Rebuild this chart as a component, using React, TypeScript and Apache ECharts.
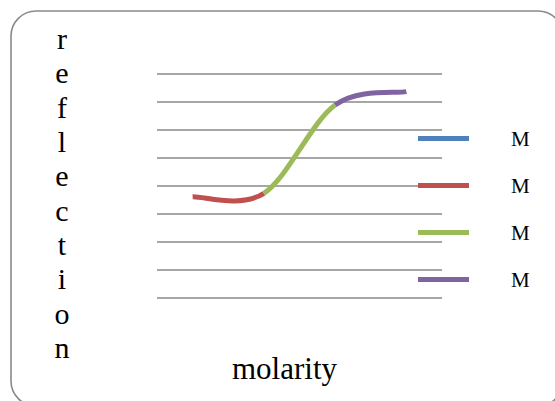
import React, { useEffect, useRef } from "react";
import * as echarts from "echarts";

// Data
const molarity = [1, 2, 3, 4];
const reflection = [0.362, 0.374, 0.689, 0.737];
const legendNames = ["M1", "M2", "M3", "M4"];
const legendLabel = "M";
const seriesColors = ["#4F81BD", "#C0504D", "#9BBB59", "#8064A2"];
// colour of the curve between consecutive molarity points
const segmentColors = ["#C0504D", "#9BBB59", "#8064A2"];
const yTitle = "reflection";
const xTitle = "molarity";

const serif = "'Liberation Serif', 'DejaVu Serif', serif";

export default function App() {
  const ref = useRef<HTMLDivElement>(null);

  useEffect(() => {
    if (!ref.current) return;
    const chart = echarts.init(ref.current, undefined, { renderer: "svg" });

    const curveData = molarity.map((x, i) => [x, reflection[i]]);
    const n = molarity.length;

    const legendSeries = legendNames.map((name, i) => ({
      name,
      type: "line",
      data: [],
      itemStyle: { color: seriesColors[i] },
      lineStyle: { color: seriesColors[i] },
    }));

    // Catmull-Rom style smoothing (as in spreadsheet "smoothed line"),
    // each segment computed through the axis scales with api.coord.
    const renderItem = (params: any, api: any) => {
      const i = params.dataIndex;
      if (i >= n - 1) return null;
      const pt = (k: number) => {
        const kk = Math.max(0, Math.min(n - 1, k));
        return api.coord([molarity[kk], reflection[kk]]);
      };
      const p0 = pt(i - 1);
      const p1 = pt(i);
      const p2 = pt(i + 1);
      const p3 = pt(i + 2);
      return {
        type: "bezierCurve",
        shape: {
          x1: p1[0],
          y1: p1[1],
          cpx1: p1[0] + (p2[0] - p0[0]) / 6,
          cpy1: p1[1] + (p2[1] - p0[1]) / 6,
          cpx2: p2[0] - (p3[0] - p1[0]) / 6,
          cpy2: p2[1] - (p3[1] - p1[1]) / 6,
          x2: p2[0],
          y2: p2[1],
        },
        style: {
          fill: "none",
          stroke: segmentColors[i],
          lineWidth: 5,
          lineCap: "butt",
        },
      };
    };

    chart.setOption({
      animation: false,
      backgroundColor: "#ffffff",
      grid: { left: 157, right: 113, top: 74, bottom: 103, containLabel: false },
      xAxis: {
        type: "value",
        min: 0.5,
        max: 4.5,
        axisLine: { show: false },
        axisTick: { show: false },
        axisLabel: { show: false },
        splitLine: { show: false },
      },
      yAxis: {
        type: "value",
        min: 0,
        max: 0.8,
        interval: 0.1,
        axisLine: { show: false },
        axisTick: { show: false },
        axisLabel: { show: false },
        splitLine: { show: true, lineStyle: { color: "#888888", width: 1.6 } },
      },
      legend: {
        data: legendNames,
        orient: "vertical",
        left: 418,
        top: 128,
        padding: 0,
        itemWidth: 51,
        itemHeight: 5,
        itemGap: 26,
        icon: "rect",
        selectedMode: false,
        formatter: () => legendLabel,
        textStyle: {
          fontFamily: serif,
          fontSize: 21,
          color: "#000000",
          lineHeight: 21,
          padding: [0, 0, 0, 37],
        },
      },
      series: [
        ...legendSeries,
        {
          name: "curve",
          type: "custom",
          data: curveData,
          encode: { x: 0, y: 1 },
          renderItem,
          z: 5,
        },
      ],
      graphic: [
        {
          type: "rect",
          shape: { x: 11, y: 11, width: 552, height: 395, r: 25 },
          style: { fill: "none", stroke: "#8a8a8a", lineWidth: 1.6 },
          silent: true,
        },
        {
          type: "text",
          x: 62,
          y: 193,
          style: {
            text: yTitle.split("").join("\n"),
            font: `30px ${serif}`,
            fill: "#000000",
            align: "center",
            verticalAlign: "middle",
            lineHeight: 34.3,
          },
        },
        {
          type: "text",
          x: 284.5,
          y: 368,
          style: {
            text: xTitle,
            font: `31px ${serif}`,
            fill: "#000000",
            align: "center",
            verticalAlign: "middle",
          },
        },
      ],
    });

    return () => chart.dispose();
  }, []);

  return (
    <div
      ref={ref}
      style={{ position: "fixed", left: 0, top: 0, width: 555, height: 401 }}
    />
  );
}
